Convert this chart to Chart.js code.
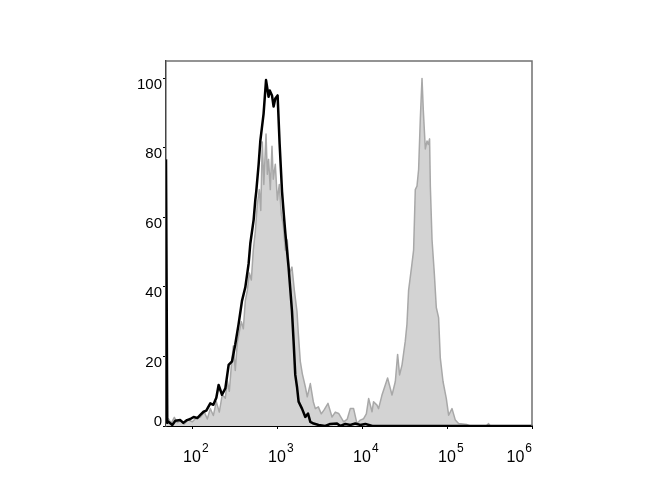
<!DOCTYPE html>
<html lang="en">
<head>
  <meta charset="UTF-8" />
  <title>Histogram overlay</title>
  <script src="https://cdn.jsdelivr.net/npm/chart.js"></script>
  <style>
    body {
      margin: 0;
      background: #fff;
    }

    .chart-container {
      width: 670px;
      height: 500px;
    }
  </style>
</head>
<body>
  <div class="chart-container">
    <canvas id="histChart" width="670" height="500"></canvas>
  </div>

  <script>
    // x values are log10 of the intensity, so 2 means 10^2
    const yTicks = [0, 20, 40, 60, 80, 100];
    const xDecades = [2, 3, 4, 5, 6];

    // control (black outline)
    const blackLogX = [
      1.694, 1.709, 1.725, 1.768, 1.804, 1.862, 1.898, 1.941, 1.980, 2.019,
      2.062, 2.098, 2.136, 2.168, 2.215, 2.251, 2.286, 2.313, 2.353, 2.392,
      2.431, 2.471, 2.509, 2.548, 2.588, 2.627, 2.666, 2.686, 2.725, 2.745,
      2.756, 2.784, 2.804, 2.842, 2.871, 2.901, 2.915, 2.941, 2.960, 2.980,
      3.007, 3.031, 3.059, 3.080, 3.098, 3.136, 3.176, 3.195, 3.215, 3.235,
      3.254, 3.294, 3.333, 3.365, 3.392, 3.431, 3.489, 3.568, 3.627, 3.706,
      3.745, 3.804, 3.862, 3.921, 3.980, 4.039, 4.121, 6.0
    ];
    const blackCount = [
      76.7, 0.9, 1.2, 0.3, 1.5, 1.7, 0.9, 1.7, 2.0, 2.6,
      2.3, 3.2, 4.1, 4.4, 6.5, 6.1, 8.1, 11.8, 9.0, 10.8,
      17.6, 18.6, 23.5, 29.3, 36.0, 39.9, 46.7, 52.5, 59.3, 65.1,
      67.5, 75.3, 82.1, 89.8, 99.5, 94.7, 96.5, 95.1, 91.9, 94.2,
      95.1, 81.1, 67.5, 60.8, 55.5, 45.7, 33.1, 24.4, 14.7, 11.3,
      7.0, 5.0, 2.6, 3.6, 1.2, 0.7, 0.3, 0, 0.6, 0.7,
      0, 0.6, 0.3, 0.7, 0.3, 0.6, 0, 0
    ];

    // stained sample (grey filled)
    const grayLogX = [
      1.694, 1.721, 1.756, 1.792, 1.827, 1.862, 1.909, 1.956, 2.004, 2.051,
      2.098, 2.145, 2.180, 2.215, 2.251, 2.286, 2.321, 2.356, 2.392, 2.415,
      2.439, 2.462, 2.486, 2.509, 2.533, 2.556, 2.580, 2.604, 2.627, 2.651,
      2.674, 2.698, 2.721, 2.745, 2.768, 2.792, 2.809, 2.827, 2.845, 2.871,
      2.886, 2.901, 2.921, 2.941, 2.956, 2.980, 3.004, 3.027, 3.051, 3.074,
      3.098, 3.121, 3.145, 3.176, 3.204, 3.235, 3.251, 3.274, 3.298, 3.333,
      3.356, 3.392, 3.427, 3.451, 3.486, 3.521, 3.556, 3.600, 3.647, 3.686,
      3.725, 3.784, 3.827, 3.862, 3.901, 3.941, 3.980, 4.019, 4.051, 4.078,
      4.118, 4.136, 4.176, 4.195, 4.235, 4.274, 4.301, 4.353, 4.392, 4.419,
      4.442, 4.471, 4.509, 4.529, 4.548, 4.568, 4.588, 4.607, 4.627, 4.647,
      4.666, 4.686, 4.706, 4.721, 4.745, 4.765, 4.780, 4.795, 4.804, 4.824,
      4.851, 4.874, 4.901, 4.921, 4.953, 4.992, 5.019, 5.059, 5.098, 5.136,
      5.235, 5.274, 5.462, 5.489, 5.508, 6.0
    ];
    const grayCount = [
      1.5, 2.1, 0.8, 2.5, 1.0, 1.5, 0.6, 1.8, 1.2, 2.4,
      2.5, 4.0, 2.0, 5.0, 3.0, 7.0, 4.0, 9.0, 8.0, 13.0,
      10.0, 17.0, 23.0, 16.0, 24.0, 27.0, 30.0, 28.0, 36.0, 39.0,
      44.0, 42.0, 50.6, 56.0, 63.7, 68.0, 62.0, 81.7, 69.5, 84.0,
      72.4, 76.7, 68.0, 80.5, 71.0, 75.3, 65.0, 69.5, 60.8, 57.8,
      50.6, 53.5, 44.0, 45.7, 39.0, 33.0, 26.5, 18.6, 15.0, 11.3,
      8.4, 12.2, 7.0, 5.0, 5.5, 3.5, 4.7, 6.5, 2.6, 4.0,
      3.6, 1.2, 2.0, 5.0, 5.0, 0.7, 1.7, 2.1, 3.5, 7.9,
      4.1, 7.0, 6.0, 5.0, 8.9, 11.8, 13.8, 8.9, 12.8, 20.6,
      14.7, 17.6, 24.4, 29.3, 39.0, 42.8, 46.7, 50.6, 68.0, 69.0,
      73.8, 88.4, 100, 91.0, 79.7, 82.0, 81.0, 82.6, 69.0, 53.5,
      43.8, 34.1, 31.2, 19.6, 12.8, 7.9, 3.1, 5.0, 1.7, 0.7,
      0.4, 0, 0, 0.7, 0, 0
    ];

    const fontFamily = 'Arial, "Liberation Sans", sans-serif';

    // frame on top/right plus the tick labels (10 with a raised exponent)
    const axisLabels = {
      id: 'axisLabels',
      afterDraw(chart) {
        const { ctx, chartArea, scales } = chart;
        ctx.save();

        ctx.strokeStyle = '#707070';
        ctx.lineWidth = 1.5;
        ctx.beginPath();
        ctx.moveTo(chartArea.left, chartArea.top);
        ctx.lineTo(chartArea.right, chartArea.top);
        ctx.lineTo(chartArea.right, chartArea.bottom);
        ctx.stroke();

        ctx.fillStyle = '#000';
        ctx.font = `15px ${fontFamily}`;
        ctx.textAlign = 'right';
        ctx.textBaseline = 'middle';
        yTicks.forEach(v => {
          const y = Math.min(scales.y.getPixelForValue(v) + 6, chartArea.bottom - 4);
          ctx.fillText(String(v), chartArea.left - 4, y);
        });

        ctx.textAlign = 'left';
        ctx.textBaseline = 'alphabetic';
        xDecades.forEach(d => {
          const px = scales.x.getPixelForValue(d);
          ctx.font = `16px ${fontFamily}`;
          const baseW = ctx.measureText('10').width;
          ctx.font = `12px ${fontFamily}`;
          const expW = ctx.measureText(String(d)).width;
          let left = px - baseW / 2;
          if (left + baseW + 1 + expW > chartArea.right) {
            left = chartArea.right - baseW - 1 - expW;
          }
          ctx.font = `16px ${fontFamily}`;
          ctx.fillText('10', left, 462);
          ctx.font = `12px ${fontFamily}`;
          ctx.fillText(String(d), left + baseW + 1, 452);
        });

        ctx.restore();
      }
    };

    const ctx = document.getElementById('histChart').getContext('2d');

    new Chart(ctx, {
      type: 'line',
      data: {
        datasets: [
          {
            label: 'Control',
            data: blackLogX.map((x, i) => ({ x, y: blackCount[i] })),
            borderColor: '#000',
            borderWidth: 2.5,
            borderJoinStyle: 'round',
            fill: false,
            pointRadius: 0,
            tension: 0,
            order: 0
          },
          {
            label: 'Stained',
            data: grayLogX.map((x, i) => ({ x, y: grayCount[i] })),
            borderColor: '#a8a8a8',
            backgroundColor: '#d3d3d3',
            borderWidth: 1.5,
            borderJoinStyle: 'round',
            fill: 'start',
            pointRadius: 0,
            tension: 0,
            order: 1
          }
        ]
      },
      options: {
        responsive: false,
        animation: false,
        layout: {
          padding: { top: 61, right: 138, left: 0, bottom: 0 }
        },
        plugins: {
          legend: { display: false },
          tooltip: { enabled: false }
        },
        scales: {
          x: {
            type: 'linear',
            min: 1.694,
            max: 6,
            afterBuildTicks: s => { s.ticks = xDecades.map(v => ({ value: v })); },
            afterFit: s => { s.height = 74; },
            ticks: { display: false },
            grid: {
              display: true,
              drawOnChartArea: false,
              drawTicks: true,
              tickLength: 3,
              color: '#000'
            },
            border: { color: '#000', width: 2 }
          },
          y: {
            min: 0,
            max: 105,
            afterBuildTicks: s => { s.ticks = yTicks.map(v => ({ value: v })); },
            afterFit: s => { s.width = 166; },
            ticks: { display: false },
            grid: {
              display: true,
              drawOnChartArea: false,
              drawTicks: true,
              tickLength: 3,
              color: '#000'
            },
            border: { color: '#444', width: 1.5 }
          }
        }
      },
      plugins: [axisLabels]
    });
  </script>
</body>
</html>
